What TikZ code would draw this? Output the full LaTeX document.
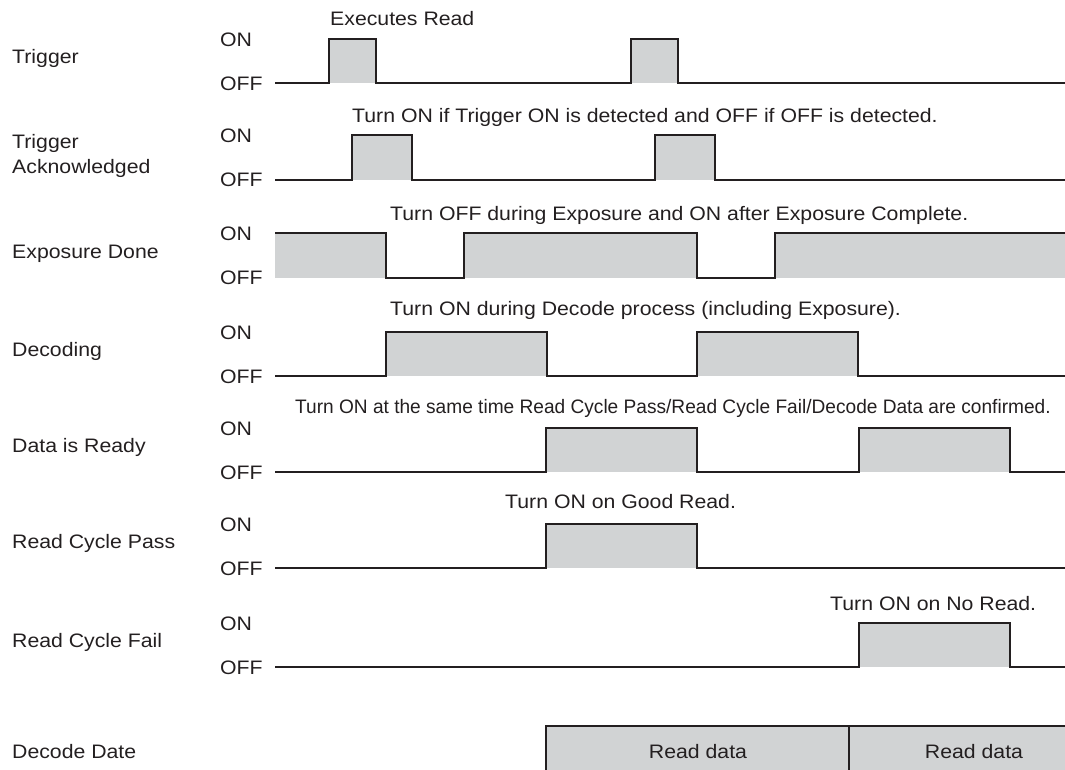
\documentclass[tikz,border=0pt]{standalone}
\usepackage{fontspec}
\setmainfont[FakeStretch=1.09]{Liberation Sans}
\newfontfamily\condfont[FakeStretch=0.98]{Liberation Sans}
\definecolor{ink}{HTML}{231F20}
\definecolor{shade}{HTML}{D1D3D4}
\tikzset{
  wave/.style={draw=ink, line width=1.8pt, line join=miter},
  hi/.style={fill=shade, draw=none},
  txt/.style={anchor=base west, inner sep=0pt, text=ink, font=\fontsize{19.5}{23}\selectfont},
  ctxt/.style={anchor=base west, inner sep=0pt, text=ink, font=\fontsize{19.5}{23}\condfont},
  mtxt/.style={anchor=base, inner sep=0pt, text=ink, font=\fontsize{19.5}{23}\selectfont}
}
\begin{document}
\begin{tikzpicture}[x=1pt,y=-1pt]
\useasboundingbox (0,0) rectangle (1065,769);
% ---------- fills ----------
\fill[hi] (329,39) rectangle (376,83);
\fill[hi] (631,39) rectangle (678,83);
\fill[hi] (352,135) rectangle (412,180);
\fill[hi] (655,135) rectangle (715,180);
\fill[hi] (275,233) rectangle (386,278);
\fill[hi] (464,233) rectangle (697,278);
\fill[hi] (775,233) rectangle (1065,278);
\fill[hi] (386,332) rectangle (547,376);
\fill[hi] (697,332) rectangle (858,376);
\fill[hi] (546,428) rectangle (697,472);
\fill[hi] (859,428) rectangle (1010,472);
\fill[hi] (546,524) rectangle (697,568);
\fill[hi] (859,623) rectangle (1010,667);
\fill[hi] (546,726) rectangle (1066,770);
% ---------- waveforms ----------
\draw[wave] (275,83) -- (329,83) -- (329,39) -- (376,39) -- (376,83) -- (631,83) -- (631,39) -- (678,39) -- (678,83) -- (1065,83);
\draw[wave] (275,180) -- (352,180) -- (352,135) -- (412,135) -- (412,180) -- (655,180) -- (655,135) -- (715,135) -- (715,180) -- (1065,180);
\draw[wave] (275,233) -- (386,233) -- (386,278) -- (464,278) -- (464,233) -- (697,233) -- (697,278) -- (775,278) -- (775,233) -- (1065,233);
\draw[wave] (275,376) -- (386,376) -- (386,332) -- (547,332) -- (547,376) -- (697,376) -- (697,332) -- (858,332) -- (858,376) -- (1065,376);
\draw[wave] (275,472) -- (546,472) -- (546,428) -- (697,428) -- (697,472) -- (859,472) -- (859,428) -- (1010,428) -- (1010,472) -- (1065,472);
\draw[wave] (275,568) -- (546,568) -- (546,524) -- (697,524) -- (697,568) -- (1065,568);
\draw[wave] (275,667) -- (859,667) -- (859,623) -- (1010,623) -- (1010,667) -- (1065,667);
\draw[wave] (546,770) -- (546,726) -- (1066,726);
\draw[wave] (849,726) -- (849,770);
% ---------- signal names ----------
\node[txt] (nTrig) at (12,63) {Trigger};
\node[txt] (nAck1) at (12,148) {Trigger};
\node[txt] (nAck2) at (12,173) {Acknowledged};
\node[txt] (nExp) at (12,258) {Exposure Done};
\node[txt] (nDec) at (12,356) {Decoding};
\node[txt] (nRdy) at (12,452) {Data is Ready};
\node[txt] (nPass) at (12,548) {Read Cycle Pass};
\node[txt] (nFail) at (12,647) {Read Cycle Fail};
\node[txt] (nDD) at (12,758) {Decode Date};
% ---------- ON / OFF ----------
\foreach \on [count=\i] in {39,135,233,332,428,524,623}{
  \node[txt] (on\i) at (220,\on+7) {ON};
  \node[txt] (off\i) at (220,\on+51) {OFF};
}
% ---------- annotations ----------
\node[txt] (aRead) at (330,25) {Executes Read};
\node[txt] (aAck) at (352,122) {Turn ON if Trigger ON is detected and OFF if OFF is detected.};
\node[txt] (aExp) at (390,220) {Turn OFF during Exposure and ON after Exposure Complete.};
\node[txt] (aDec) at (390,315) {Turn ON during Decode process (including Exposure).};
\node[ctxt] (aRdy) at (295,413) {Turn ON at the same time Read Cycle Pass/Read Cycle Fail/Decode Data are confirmed.};
\node[txt] (aPass) at (505,508) {Turn ON on Good Read.};
\node[txt] (aFail) at (830,610) {Turn ON on No Read.};
% ---------- decode data ----------
\node[mtxt] (rd1) at (698,758) {Read data};
\node[mtxt] (rd2) at (974,758) {Read data};
\end{tikzpicture}
\end{document}
